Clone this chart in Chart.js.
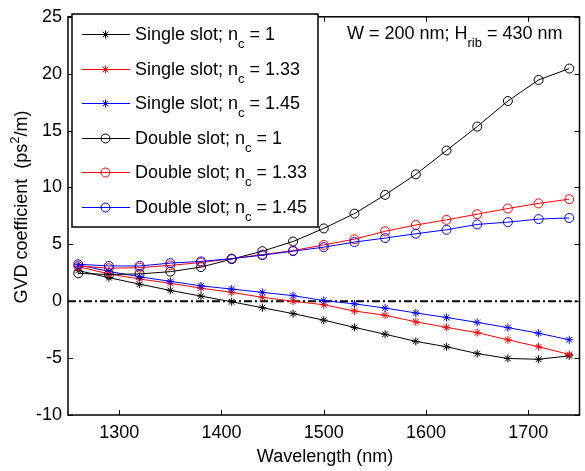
<!DOCTYPE html>
<html><head><meta charset="utf-8">
<script src="https://cdn.jsdelivr.net/npm/chart.js@4/dist/chart.umd.min.js"></script>
<style>html,body{margin:0;padding:0;background:#fff}canvas{display:block}</style>
</head><body>
<canvas id="c" width="585" height="471"></canvas>
<script>
// ---- data ----
const wavelength = [1260,1290,1320,1350,1380,1410,1440,1470,1500,1530,1560,1590,1620,1650,1680,1710,1740];
const singleN1   = [2.7, 2.07, 1.5, 0.95, 0.45, -0.05, -0.57, -1.09, -1.66, -2.3, -2.9, -3.53, -4.0, -4.6, -5.03, -5.1, -4.8];
const singleN133 = [3.05, 2.4, 1.95, 1.58, 1.15, 0.78, 0.34, 0.0, -0.31, -0.86, -1.23, -1.81, -2.3, -2.76, -3.39, -4.0, -4.68];
const singleN145 = [3.2, 2.62, 2.15, 1.75, 1.35, 1.07, 0.78, 0.49, 0.06, -0.23, -0.6, -1.03, -1.43, -1.86, -2.32, -2.81, -3.39];
const doubleN1   = [2.45, 2.35, 2.4, 2.6, 3.0, 3.7, 4.4, 5.25, 6.4, 7.7, 9.35, 11.15, 13.25, 15.35, 17.6, 19.45, 20.45];
const doubleN133 = [3.1, 2.9, 2.95, 3.15, 3.4, 3.74, 4.1, 4.45, 4.95, 5.45, 6.15, 6.7, 7.15, 7.65, 8.15, 8.6, 8.97];
const doubleN145 = [3.25, 3.1, 3.1, 3.35, 3.5, 3.74, 4.05, 4.4, 4.75, 5.2, 5.55, 5.93, 6.28, 6.75, 6.95, 7.22, 7.32];
const zeroLineX = [1250, 1750];
const zeroLineY = [0, 0];
const xTicks = [1300, 1400, 1500, 1600, 1700];
const yTicks = [-10, -5, 0, 5, 10, 15, 20, 25];
const slotNames = ['Single slot', 'Double slot'];
const ncValues = ['1', '1.33', '1.45'];
const xTitle = 'Wavelength (nm)';
const annotationParts = [['W = 200 nm; H', 0], ['rib', 1], [' = 430 nm', 0]];
const yTitleParts = [['GVD coefficient  (ps', 0], ['2', -1], ['/m)', 0]];

const FONT = '"Liberation Sans", Arial, Helvetica, sans-serif';
const FS = 18;
const colors = ['#000000', '#ff0000', '#0000ff'];
const seriesValues = [singleN1, singleN133, singleN145, doubleN1, doubleN133, doubleN145];

const datasets = [];
seriesValues.forEach((vals, i) => {
  const dbl = i >= 3;
  const col = colors[i % 3];
  datasets.push({
    label: slotNames[dbl ? 1 : 0] + '; n_c = ' + ncValues[i % 3],
    data: wavelength.map((w, k) => ({x: w, y: vals[k]})),
    borderColor: col,
    backgroundColor: 'transparent',
    borderWidth: 1,
    pointStyle: dbl ? 'circle' : 'star',
    pointRadius: dbl ? 4.5 : 4,
    pointBorderColor: col,
    pointBackgroundColor: 'transparent',
    pointBorderWidth: 1,
    tension: 0,
    order: 6 - i,
    meta: {sub: 'c', prefix: slotNames[dbl ? 1 : 0] + '; n', suffix: ' = ' + ncValues[i % 3]}
  });
});
datasets.push({
  label: 'zero',
  data: zeroLineX.map((x, k) => ({x: x, y: zeroLineY[k]})),
  borderColor: '#000',
  borderWidth: 2,
  borderDash: [8, 3, 2, 3],
  pointRadius: 0,
  order: 10
});

const SUB = 13;
function drawRich(ctx, parts, x, y, size) {
  let cx = x;
  for (const [t, mode] of parts) {
    if (mode === 0) {
      ctx.font = size + 'px ' + FONT;
      ctx.fillText(t, cx, y);
    } else if (mode === 1) {
      ctx.font = SUB + 'px ' + FONT;
      ctx.fillText(t, cx, y + 8);
    } else {
      ctx.font = SUB + 'px ' + FONT;
      ctx.fillText(t, cx, y - 8);
    }
    cx += ctx.measureText(t).width;
  }
  return cx - x;
}
function richWidth(ctx, parts, size) {
  let w = 0;
  for (const [t, mode] of parts) {
    ctx.font = (mode === 0 ? size : SUB) + 'px ' + FONT;
    w += ctx.measureText(t).width;
  }
  return w;
}

const framePlugin = {
  id: 'frame',
  beforeDatasetsDraw(chart) {
    const {ctx, chartArea: a, scales} = chart;
    ctx.save();
    ctx.strokeStyle = '#000';
    ctx.lineWidth = 1.5;
    ctx.strokeRect(a.left, a.top, a.right - a.left, a.bottom - a.top);
    ctx.lineWidth = 1;
    ctx.beginPath();
    for (const v of xTicks) {
      const px = Math.round(scales.x.getPixelForValue(v)) + 0.5;
      ctx.moveTo(px, a.bottom); ctx.lineTo(px, a.bottom - 5);
      ctx.moveTo(px, a.top); ctx.lineTo(px, a.top + 5);
    }
    for (const v of yTicks) {
      const py = Math.round(scales.y.getPixelForValue(v)) + 0.5;
      ctx.moveTo(a.left, py); ctx.lineTo(a.left + 5, py);
      ctx.moveTo(a.right, py); ctx.lineTo(a.right - 5, py);
    }
    ctx.stroke();
    ctx.restore();
  },
  afterDraw(chart) {
    const {ctx, chartArea: a} = chart;
    ctx.save();
    ctx.fillStyle = '#000';
    ctx.textBaseline = 'alphabetic';
    // x title
    ctx.font = FS + 'px ' + FONT;
    ctx.textAlign = 'center';
    ctx.fillText(xTitle, 325, 462);
    ctx.textAlign = 'left';
    // y title
    ctx.save();
    ctx.translate(27, 207);
    ctx.rotate(-Math.PI / 2);
    const yw = richWidth(ctx, yTitleParts, FS);
    drawRich(ctx, yTitleParts, -yw / 2, 0, FS);
    ctx.restore();
    // annotation
    drawRich(ctx, annotationParts, 347, 39, FS);
    // legend
    const lx = 72, ly = 14, lw = 246, lh = 213;
    ctx.fillStyle = '#fff';
    ctx.fillRect(lx, ly, lw, lh);
    ctx.strokeStyle = '#000';
    ctx.lineWidth = 1.5;
    ctx.strokeRect(lx, ly, lw, lh);
    const ds = chart.data.datasets.slice(0, 6);
    ds.forEach((d, i) => {
      const ry = Math.round(34 + i * 34.6);
      ctx.strokeStyle = d.borderColor;
      ctx.lineWidth = 1;
      ctx.beginPath();
      ctx.moveTo(82, ry + 0.5); ctx.lineTo(130, ry + 0.5);
      ctx.stroke();
      ctx.fillStyle = 'rgba(0,0,0,0)';
      ctx.strokeStyle = d.borderColor;
      Chart.helpers.drawPoint(ctx, {pointStyle: d.pointStyle, radius: d.pointRadius, borderWidth: 1, rotation: 0}, 105.5, ry + 0.5);
      ctx.fillStyle = '#000';
      drawRich(ctx, [[d.meta.prefix, 0], [d.meta.sub, 1], [d.meta.suffix, 0]], 135, ry + 6, FS);
    });
    ctx.restore();
  }
};

new Chart(document.getElementById('c'), {
  type: 'line',
  data: {datasets},
  options: {
    responsive: false,
    devicePixelRatio: 1,
    animation: false,
    layout: {padding: {top: 11, right: 0, left: 0, bottom: 0}},
    plugins: {legend: {display: false}, tooltip: {enabled: false}},
    elements: {line: {fill: false}},
    scales: {
      x: {
        type: 'linear', min: 1250, max: 1750,
        grid: {display: false, drawTicks: false},
        border: {display: false},
        afterBuildTicks(s) { s.ticks = xTicks.map(v => ({value: v})); },
        afterFit(s) { s.height = 56; },
        ticks: {color: '#000', font: {family: FONT, size: FS}, padding: 7, maxRotation: 0, autoSkip: false,
                callback: v => String(v)}
      },
      y: {
        type: 'linear', min: -10, max: 25,
        grid: {display: false, drawTicks: false},
        border: {display: false},
        afterBuildTicks(s) { s.ticks = yTicks.map(v => ({value: v})); },
        afterFit(s) { s.width = 68; },
        ticks: {color: '#000', font: {family: FONT, size: FS}, padding: 6, autoSkip: false,
                callback: v => String(v)}
      }
    }
  },
  plugins: [framePlugin]
});
</script>
</body></html>
